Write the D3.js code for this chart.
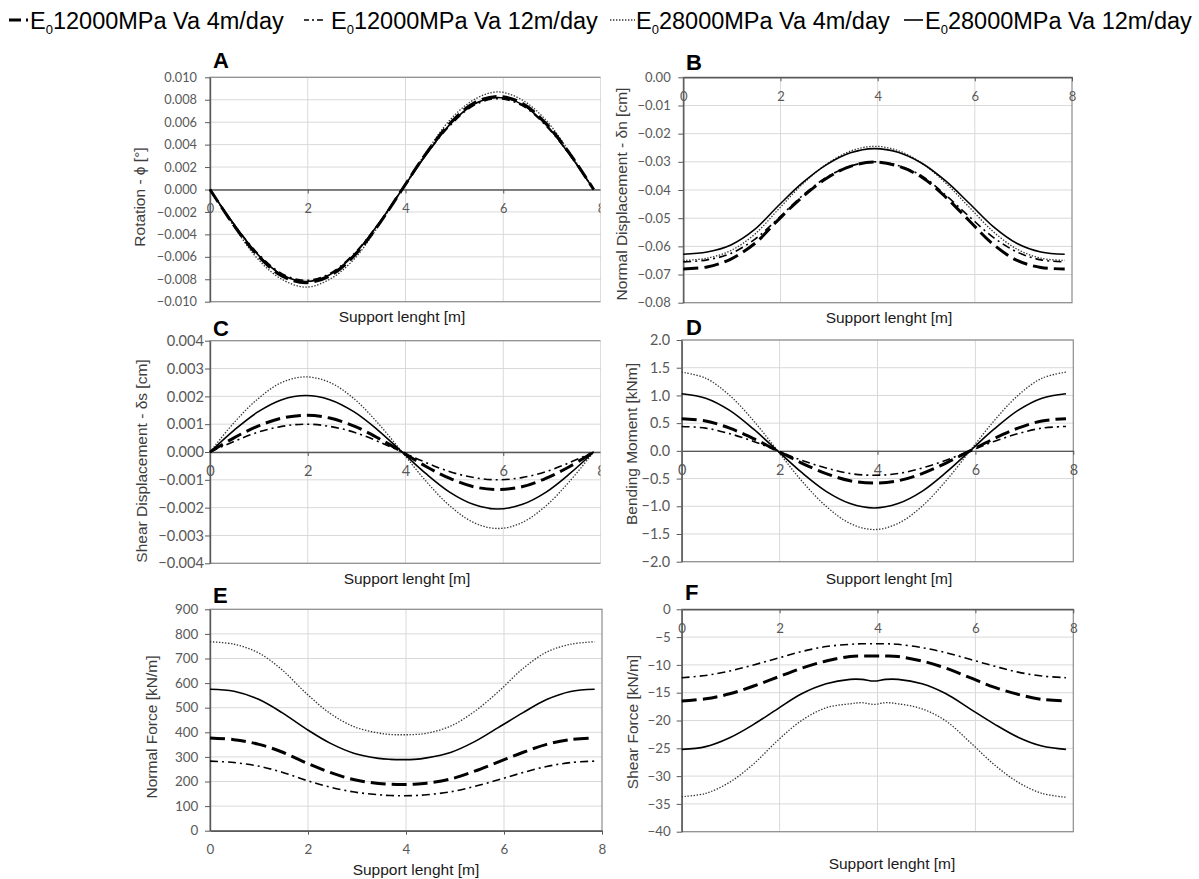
<!DOCTYPE html>
<html>
<head>
<meta charset="utf-8">
<script src="https://cdn.jsdelivr.net/npm/d3@7.9.0/dist/d3.min.js"></script>
<style>
  body { margin: 0; background: #fff; }
  svg { display: block; }
</style>
</head>
<body>
<svg id="chart" width="1199" height="879"></svg>
<script>
// support length positions [m]
const xs = [0, 0.49, 0.98, 1.47, 1.96, 2.45, 2.95, 3.44, 3.93, 4.42, 4.91, 5.40, 5.89, 6.38, 6.87, 7.36, 7.85];
const xsEF = [0, 0.49, 0.98, 1.47, 1.96, 2.45, 2.95, 3.44, 3.68, 3.93, 4.17, 4.42, 4.91, 5.40, 5.89, 6.38, 6.87, 7.36, 7.85];

const seriesNames = ['12000MPa Va 4m/day', '12000MPa Va 12m/day', '28000MPa Va 4m/day', '28000MPa Va 12m/day'];

// A - rotation [°]
const rotS1 = [0, -0.0032, -0.0059, -0.0077, -0.0083, -0.0077, -0.0059, -0.0032, 0, 0.0032, 0.0059, 0.0077, 0.0083, 0.0077, 0.0059, 0.0032, 0];
const rotS2 = [0, -0.0031, -0.0057, -0.0075, -0.0081, -0.0075, -0.0057, -0.0031, 0, 0.0031, 0.0057, 0.0075, 0.0081, 0.0075, 0.0057, 0.0031, 0];
const rotS3 = [0, -0.0033, -0.0062, -0.0080, -0.0087, -0.0080, -0.0062, -0.0033, 0, 0.0033, 0.0062, 0.0080, 0.0087, 0.0080, 0.0062, 0.0033, 0];
const rotS4 = [0, -0.0031, -0.0058, -0.0076, -0.0082, -0.0076, -0.0058, -0.0031, 0, 0.0031, 0.0058, 0.0076, 0.0082, 0.0076, 0.0058, 0.0031, 0];

// B - normal displacement [cm]
const ndS1 = [-0.0680, -0.0673, -0.0645, -0.0590, -0.0505, -0.0425, -0.0358, -0.0316, -0.0301, -0.0315, -0.0355, -0.0425, -0.0510, -0.0593, -0.0650, -0.0675, -0.0680];
const ndS2 = [-0.0655, -0.0648, -0.0625, -0.0575, -0.0500, -0.0420, -0.0355, -0.0315, -0.0300, -0.0313, -0.0350, -0.0418, -0.0495, -0.0568, -0.0620, -0.0648, -0.0655];
const ndS3 = [-0.0650, -0.0642, -0.0615, -0.0557, -0.0468, -0.0380, -0.0308, -0.0262, -0.0245, -0.0260, -0.0305, -0.0375, -0.0462, -0.0548, -0.0610, -0.0642, -0.0650];
const ndS4 = [-0.0628, -0.0620, -0.0595, -0.0540, -0.0455, -0.0375, -0.0310, -0.0268, -0.0253, -0.0266, -0.0305, -0.0368, -0.0448, -0.0530, -0.0590, -0.0620, -0.0628];

// C - shear displacement [cm]
const sdS1 = [0, 0.00051, 0.00093, 0.00122, 0.00132, 0.00122, 0.00093, 0.00050, 0, -0.00052, -0.00095, -0.00125, -0.00135, -0.00125, -0.00095, -0.00052, 0];
const sdS2 = [0, 0.00038, 0.00071, 0.00092, 0.00100, 0.00092, 0.00071, 0.00038, 0, -0.00038, -0.00071, -0.00092, -0.00100, -0.00092, -0.00071, -0.00038, 0];
const sdS3 = [0, 0.00105, 0.00191, 0.00250, 0.00270, 0.00250, 0.00191, 0.00103, 0, -0.00105, -0.00194, -0.00254, -0.00275, -0.00254, -0.00194, -0.00105, 0];
const sdS4 = [0, 0.00078, 0.00144, 0.00188, 0.00203, 0.00188, 0.00144, 0.00078, 0, -0.00078, -0.00145, -0.00189, -0.00205, -0.00189, -0.00145, -0.00078, 0];

// D - bending moment [kNm]
const bmS1 = [0.58, 0.54, 0.41, 0.22, 0, -0.22, -0.41, -0.54, -0.58, -0.54, -0.41, -0.22, 0, 0.22, 0.41, 0.54, 0.58];
const bmS2 = [0.44, 0.41, 0.31, 0.17, 0, -0.17, -0.31, -0.41, -0.44, -0.41, -0.31, -0.17, 0, 0.17, 0.31, 0.41, 0.44];
const bmS3 = [1.42, 1.31, 1.00, 0.54, 0, -0.54, -1.00, -1.31, -1.42, -1.31, -1.00, -0.54, 0, 0.54, 1.00, 1.31, 1.42];
const bmS4 = [1.03, 0.95, 0.73, 0.39, 0, -0.39, -0.73, -0.95, -1.03, -0.95, -0.73, -0.39, 0, 0.39, 0.73, 0.95, 1.03];

// E - normal force [kN/m]
const nfS1 = [377, 370, 352, 320, 276, 237, 207, 192, 189, 188, 189, 193, 210, 242, 280, 318, 351, 370, 377];
const nfS2 = [283, 277, 263, 238, 205, 177, 157, 146, 143, 142, 143, 146, 158, 180, 207, 236, 261, 277, 283];
const nfS3 = [768, 758, 724, 654, 559, 477, 422, 397, 391, 390, 391, 396, 425, 485, 566, 658, 726, 758, 768];
const nfS4 = [575, 567, 535, 480, 414, 356, 314, 294, 290, 289, 290, 296, 318, 362, 420, 479, 533, 566, 575];

// F - shear force [kN/m]
const sfS1 = [-16.5, -16.1, -15.2, -13.8, -12.2, -10.6, -9.3, -8.5, -8.4, -8.4, -8.4, -8.5, -9.3, -10.6, -12.3, -14.0, -15.3, -16.2, -16.5];
const sfS2 = [-12.3, -11.9, -11.1, -10.0, -8.8, -7.6, -6.7, -6.3, -6.2, -6.2, -6.2, -6.3, -6.9, -7.8, -9.0, -10.2, -11.3, -12.0, -12.3];
const sfS3 = [-33.7, -33.1, -31.1, -27.8, -23.6, -20.0, -17.7, -17.0, -16.8, -17.1, -16.8, -17.0, -17.9, -20.1, -23.9, -27.9, -31.1, -33.1, -33.8];
const sfS4 = [-25.2, -24.7, -23.1, -20.7, -17.9, -15.2, -13.4, -12.6, -12.6, -12.9, -12.6, -12.6, -13.4, -15.2, -17.9, -20.6, -23.0, -24.6, -25.2];

const xTickVals = [0, 2, 4, 6, 8];

// line look of each series, same order as seriesNames
const lineStyles = [
  { width: 3, dash: '15,6', color: '#000' },
  { width: 1.6, dash: '8,4,2,4', color: '#000' },
  { width: 1.3, dash: '1.4,1.6', color: '#333' },
  { width: 1.6, dash: null, color: '#000' },
];

const svg = d3.select('#chart');
const tickFont = 'Lato, "Open Sans", sans-serif';
const titleFont = '"Liberation Sans", Arial, sans-serif';

svg.append('defs').append('clipPath').attr('id', 'clipLeft')
  .append('rect').attr('x', 0).attr('y', 0).attr('width', 600.5).attr('height', 879);

const panels = [
  { id: 'A', series: [rotS1, rotS2, rotS3, rotS4], xv: xs, left: 210, right: 601, top: 77.3, bottom: 301.7,
    yDomain: [-0.01, 0.01], step: 0.002, fmt: '.3f', xAxisAt: 0, fs: 12.8, pad: 8, clip: true,
    ytitle: 'Rotation - ϕ [°]', ytx: 140, yty: 197, xtx: 402, xty: 322, lx: 213, ly: 68 },
  { id: 'B', series: [ndS1, ndS2, ndS3, ndS4], xv: xs, left: 683.3, right: 1072, top: 77.3, bottom: 302.7,
    yDomain: [-0.08, 0], step: 0.01, fmt: '.2f', xAxisAt: 0, fs: 13, pad: 7.6,
    ytitle: 'Normal Displacement - δn [cm]', ytx: 622, yty: 194, xtx: 889, xty: 323, lx: 686, ly: 70 },
  { id: 'C', series: [sdS1, sdS2, sdS3, sdS4], xv: xs, left: 210, right: 601, top: 340.7, bottom: 563.3,
    yDomain: [-0.004, 0.004], step: 0.001, fmt: '.3f', xAxisAt: 0, fs: 14.6, pad: 1, clip: true,
    ytitle: 'Shear Displacement - δs [cm]', ytx: 142, yty: 461, xtx: 407, xty: 584, lx: 213, ly: 336 },
  { id: 'D', series: [bmS1, bmS2, bmS3, bmS4], xv: xs, left: 681.7, right: 1073.3, top: 340, bottom: 561.7,
    yDomain: [-2, 2], step: 0.5, fmt: '.1f', xAxisAt: 0, fs: 14.4, pad: 6.7,
    ytitle: 'Bending Moment [kNm]', ytx: 632, yty: 444, xtx: 889, xty: 584, lx: 686, ly: 335 },
  { id: 'E', series: [nfS1, nfS2, nfS3, nfS4], xv: xsEF, left: 210, right: 602, top: 609.3, bottom: 830.7,
    yDomain: [0, 900], step: 100, fmt: 'd', xAxisAt: 0, fs: 13.4, pad: 6.7,
    ytitle: 'Normal Force [kN/m]', ytx: 152, yty: 727, xtx: 416, xty: 875, lx: 213, ly: 603 },
  { id: 'F', series: [sfS1, sfS2, sfS3, sfS4], xv: xsEF, left: 681.7, right: 1073.3, top: 609.3, bottom: 831.7,
    yDomain: [-40, 0], step: 5, fmt: 'd', xAxisAt: 0, fs: 13.3, pad: 6,
    ytitle: 'Shear Force [kN/m]', ytx: 633, yty: 722, xtx: 892, xty: 869, lx: 685, ly: 600 },
];

function drawPanel(p) {
  const g = svg.append('g');
  if (p.clip) g.attr('clip-path', 'url(#clipLeft)');

  const x = d3.scaleLinear().domain([0, 8]).range([p.left, p.right]);
  const y = d3.scaleLinear().domain(p.yDomain).range([p.bottom, p.top]);
  const yTicks = d3.range(p.yDomain[0], p.yDomain[1] + p.step / 2, p.step);

  // grid
  g.append('g').selectAll('line').data(yTicks).join('line')
    .attr('x1', p.left).attr('x2', p.right)
    .attr('y1', d => y(d)).attr('y2', d => y(d))
    .attr('stroke', '#d9d9d9').attr('stroke-width', 1);
  g.append('g').selectAll('line').data([2, 4, 6]).join('line')
    .attr('x1', d => x(d)).attr('x2', d => x(d))
    .attr('y1', p.top).attr('y2', p.bottom)
    .attr('stroke', '#d9d9d9').attr('stroke-width', 1);

  // plot area frame
  g.append('rect')
    .attr('x', p.left).attr('y', p.top)
    .attr('width', p.right - p.left).attr('height', p.bottom - p.top)
    .attr('fill', 'none').attr('stroke', '#8c8c8c').attr('stroke-width', 1.2);

  // y axis
  const ya = g.append('g').attr('transform', `translate(${p.left},0)`)
    .call(d3.axisLeft(y).tickValues(yTicks).tickFormat(d3.format(p.fmt))
      .tickSize(5).tickSizeOuter(0).tickPadding(p.pad));

  // x axis sits on the zero line
  const xa = g.append('g').attr('transform', `translate(0,${y(p.xAxisAt)})`)
    .call(d3.axisBottom(x).tickValues(xTickVals).tickFormat(d3.format('d'))
      .tickSize(4).tickSizeOuter(0).tickPadding(10));

  [ya, xa].forEach(a => {
    a.select('.domain').attr('stroke', '#595959').attr('stroke-width', 1.4);
    a.selectAll('.tick line').attr('stroke', '#595959');
    a.selectAll('.tick text').attr('fill', '#595959')
      .style('font-family', tickFont).style('font-size', p.fs + 'px');
  });
  xa.selectAll('.tick').filter(d => d === 0).select('line').remove();

  // series
  const line = d3.line()
    .x((d, i) => x(p.xv[i]))
    .y(d => y(d))
    .curve(d3.curveCatmullRom.alpha(0.5));
  // draw dotted and solid first, thick dashed on top
  [2, 3, 1, 0].forEach(k => {
    const st = lineStyles[k];
    g.append('path')
      .datum(p.series[k])
      .attr('d', line)
      .attr('fill', 'none')
      .attr('stroke', st.color)
      .attr('stroke-width', st.width)
      .attr('stroke-dasharray', st.dash);
  });

  // titles
  svg.append('text')
    .attr('transform', `translate(${p.ytx},${p.yty}) rotate(-90)`)
    .attr('text-anchor', 'middle').attr('dy', '0.35em')
    .style('font-family', titleFont).style('font-size', '15.5px')
    .attr('fill', '#3d3d3d')
    .text(p.ytitle);
  svg.append('text')
    .attr('x', p.xtx).attr('y', p.xty)
    .attr('text-anchor', 'middle')
    .style('font-family', titleFont).style('font-size', '15.5px')
    .attr('fill', '#1a1a1a')
    .text('Support lenght [m]');
  svg.append('text')
    .attr('x', p.lx).attr('y', p.ly)
    .style('font-family', titleFont).style('font-size', '22px').style('font-weight', 'bold')
    .attr('fill', '#000')
    .text(p.id);
}

panels.forEach(drawPanel);

// legend across the top
const legendTextX = [30, 331, 636, 925];
const legendSample = [
  { x1: 9, x2: 28, dash: '12,5,2,20' },
  { x1: 304, x2: 328, dash: '5,3,2,3,6' },
  { x1: 610, x2: 635, dash: '1.4,1.6' },
  { x1: 904, x2: 923, dash: null },
];
seriesNames.forEach((name, i) => {
  const st = lineStyles[i];
  const sm = legendSample[i];
  svg.append('line')
    .attr('x1', sm.x1).attr('x2', sm.x2).attr('y1', 20).attr('y2', 20)
    .attr('stroke', st.color).attr('stroke-width', st.width)
    .attr('stroke-dasharray', sm.dash);
  const t = svg.append('text')
    .attr('x', legendTextX[i]).attr('y', 29)
    .style('font-family', titleFont).style('font-size', '23.5px')
    .attr('fill', '#000');
  t.append('tspan').text('E');
  t.append('tspan').attr('dy', 5).style('font-size', '13px').text('0');
  t.append('tspan').attr('dy', -5).text(name);
});
</script>
</body>
</html>
